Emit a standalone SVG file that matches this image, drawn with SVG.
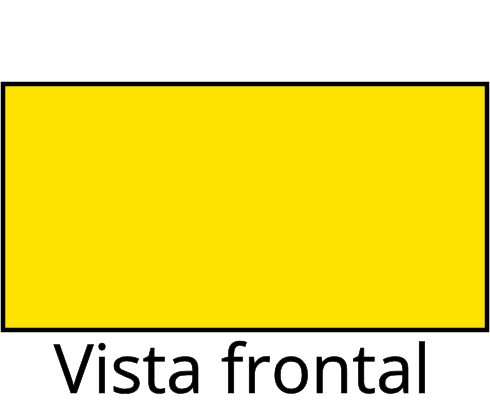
<svg xmlns="http://www.w3.org/2000/svg" width="490" height="413" viewBox="0 0 490 413">
<style>
.box{fill:#ffe300;stroke:#000;stroke-width:4.5}
.lbl{font-family:"Open Sans","Noto Sans",sans-serif;font-size:67px;fill:#000;stroke:#000;stroke-width:0.6}
</style>
<g id="front-view">
<rect class="box" x="3" y="84" width="484" height="246"/>
</g>
<g id="label">
<text class="lbl" x="242" y="393" text-anchor="middle">Vista frontal</text>
</g>
</svg>
